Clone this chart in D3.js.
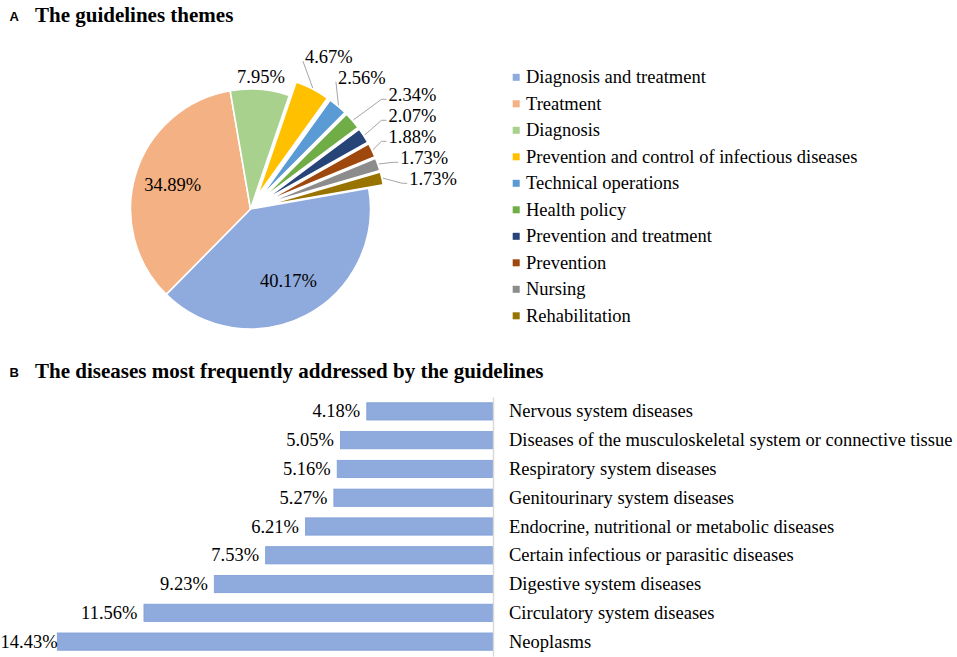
<!DOCTYPE html>
<html>
<head>
<meta charset="utf-8">
<script src="https://cdn.jsdelivr.net/npm/d3@7/dist/d3.min.js"></script>
<style>
  html, body { margin: 0; padding: 0; background: #ffffff; }
  svg { display: block; }
</style>
</head>
<body>
<svg id="chart" width="957" height="657"></svg>
<script>
// ---------------- data ----------------
const themeNames = [
  "Diagnosis and treatment", "Treatment", "Diagnosis",
  "Prevention and control of infectious diseases", "Technical operations",
  "Health policy", "Prevention and treatment", "Prevention", "Nursing", "Rehabilitation"
];
const themeValues = [40.17, 34.89, 7.95, 4.67, 2.56, 2.34, 2.07, 1.88, 1.73, 1.73];
const themePalette = ["#8FAADC", "#F4B183", "#A9D18E", "#FFC000", "#5B9BD5",
                      "#70AD47", "#264478", "#9E480E", "#8C8C8C", "#997300"];

const diseaseNames = [
  "Nervous system diseases",
  "Diseases of the musculoskeletal system or connective tissue",
  "Respiratory system diseases",
  "Genitourinary system diseases",
  "Endocrine, nutritional or metabolic diseases",
  "Certain infectious or parasitic diseases",
  "Digestive system diseases",
  "Circulatory system diseases",
  "Neoplasms"
];
const diseaseValues = [4.18, 5.05, 5.16, 5.27, 6.21, 7.53, 9.23, 11.56, 14.43];

const fmt = v => v.toFixed(2) + "%";

// ---------------- setup ----------------
const svg = d3.select("#chart");
svg.append("rect").attr("width", 957).attr("height", 657).attr("fill", "#fff");

const FS = 18.5;
const serif = '"Liberation Serif", "Times New Roman", serif';
const sans = '"Liberation Sans", Arial, sans-serif';

function panelTitle(letter, text, baseY) {
  svg.append("text").attr("x", 9.5).attr("y", baseY - 1)
    .attr("font-family", sans).attr("font-weight", "bold").attr("font-size", 13)
    .attr("fill", "#000").text(letter);
  svg.append("text").attr("x", 35).attr("y", baseY)
    .attr("font-family", serif).attr("font-weight", "bold").attr("font-size", 21)
    .attr("fill", "#000").text(text);
}
panelTitle("A", "The guidelines themes", 21.7);
panelTitle("B", "The diseases most frequently addressed by the guidelines", 377.5);

// ---------------- Panel A: pie ----------------
const cx = 250.5, cy = 209, R = 120;
const a0 = 80 * Math.PI / 180;
const themeData = themeNames.map((n, i) => ({ name: n, value: themeValues[i], color: themePalette[i] }));
const pie = d3.pie().sort(null).value(d => d.value).startAngle(a0).endAngle(a0 + 2 * Math.PI);
const arcs = pie(themeData);
const arc = d3.arc().innerRadius(0).outerRadius(R);

const gPie = svg.append("g").attr("transform", `translate(${cx},${cy})`);

arcs.forEach(a => {
  a.mid = (a.startAngle + a.endAngle) / 2;
  a.dx = Math.sin(a.mid); a.dy = -Math.cos(a.mid);
  a.exploded = a.data.value < 5;
  a.e = a.exploded ? 15 : 0;
});

gPie.selectAll("path.slice").data(arcs).join("path")
  .attr("class", "slice")
  .attr("d", arc)
  .attr("transform", d => `translate(${d.e * d.dx},${d.e * d.dy})`)
  .attr("fill", d => d.data.color)
  .attr("stroke", "#fff").attr("stroke-width", 1.6).attr("stroke-linejoin", "round");

// labels
const labelG = gPie.append("g");
const lbls = arcs.map((a, i) => {
  const t = labelG.append("text")
    .attr("font-family", serif).attr("font-size", FS).attr("fill", "#000")
    .attr("text-anchor", "middle").text(fmt(a.data.value));
  const w = t.node().getComputedTextLength();
  let x, y;
  if (i < 2) {
    const r = R * 0.68 + a.e;
    x = r * a.dx; y = r * a.dy;
  } else {
    const hh = 7;
    const edge = Math.min((w / 2) / Math.max(Math.abs(a.dx), 1e-6), hh / Math.max(Math.abs(a.dy), 1e-6));
    const gap = a.exploded ? 28 : 5;
    const r = R + a.e + gap + edge;
    x = r * a.dx; y = r * a.dy;
  }
  return { a, t, w, x, y, stacked: i >= 2 && a.dx > 0.7 && a.exploded };
});
// resolve vertical overlaps among right-side stacked labels
let prevY = -Infinity;
lbls.filter(l => l.stacked).sort((p, q) => p.y - q.y).forEach(l => {
  l.y = Math.max(l.y, prevY + 21);
  prevY = l.y;
  const left = Math.max(l.x - l.w / 2, R + 18);
  l.x = left + l.w / 2;
});
lbls.forEach(l => {
  l.t.attr("x", l.x).attr("y", l.y + 6);
  if (l.a.exploded) {
    const ro = R + l.a.e + 1;
    const p0 = [ro * l.a.dx, ro * l.a.dy];
    const left = l.x - l.w / 2;
    const pts = l.stacked
      ? [p0, [left - 7, l.y + 4], [left - 2, l.y + 4]]
      : [p0, [left - 2, l.y + 4]];
    labelG.append("path")
      .attr("d", d3.line()(pts))
      .attr("fill", "none").attr("stroke", "#A6A6A6").attr("stroke-width", 1);
  }
});

// legend
const legend = svg.append("g").attr("transform", "translate(512.7,77.3)");
const legRows = legend.selectAll("g").data(themeData).join("g")
  .attr("transform", (d, i) => `translate(0,${i * 26.5})`);
legRows.append("rect").attr("x", 0).attr("y", -3.5).attr("width", 7).attr("height", 7)
  .attr("fill", d => d.color);
legRows.append("text").attr("x", 13.3).attr("y", 6)
  .attr("font-family", serif).attr("font-size", FS).attr("fill", "#000")
  .text(d => d.name);

// ---------------- Panel B: bars ----------------
const axisX = 493;
const x = d3.scaleLinear().domain([0, d3.max(diseaseValues)]).range([axisX, 57.3]);
const y = d3.scaleBand().domain(diseaseNames).range([397, 656]).paddingInner(0.4).paddingOuter(0.2);
const diseaseData = diseaseNames.map((n, i) => ({ name: n, value: diseaseValues[i] }));

const gBar = svg.append("g");
gBar.selectAll("rect.bar").data(diseaseData).join("rect")
  .attr("class", "bar")
  .attr("x", d => x(d.value)).attr("y", d => y(d.name))
  .attr("width", d => x(0) - x(d.value)).attr("height", y.bandwidth())
  .attr("fill", "#8FAADC").attr("stroke", "#7F9ED8").attr("stroke-width", 0.8);

// category axis on the right side of bars (zero line)
const yAxis = d3.axisRight(y).tickSize(0).tickPadding(16);
const axG = gBar.append("g").attr("transform", `translate(${axisX},0)`).call(yAxis);
axG.select(".domain").attr("stroke", "#D9D9D9").attr("stroke-width", 1.5);
axG.selectAll(".tick text")
  .attr("font-family", serif).attr("font-size", FS).attr("fill", "#000")
  .attr("dy", null).attr("y", 6).attr("dominant-baseline", null);

// value labels, kept inside the chart area
gBar.selectAll("text.val").data(diseaseData).join("text")
  .attr("class", "val")
  .attr("y", d => y(d.name) + y.bandwidth() / 2 + 6)
  .attr("text-anchor", "end")
  .attr("font-family", serif).attr("font-size", FS).attr("fill", "#000")
  .text(d => fmt(d.value))
  .each(function (d) {
    const w = this.getComputedTextLength();
    const xr = Math.max(x(d.value) - 6.5, w + 0.5);
    d3.select(this).attr("x", xr);
  });
</script>
</body>
</html>
